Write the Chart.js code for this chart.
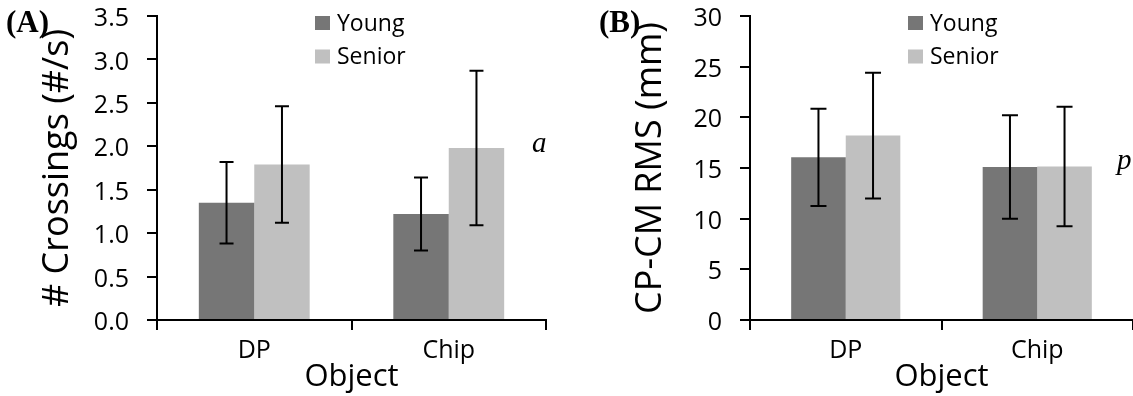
<!DOCTYPE html>
<html>
<head>
<meta charset="utf-8">
<script src="https://cdn.jsdelivr.net/npm/chart.js@4.4.0/dist/chart.umd.min.js"></script>
<style>
  html, body { margin: 0; padding: 0; background: #fff; }
  #wrap { position: relative; width: 1133px; height: 396px; }
  #chartA { position: absolute; left: 0; top: 0; }
  #chartB { position: absolute; left: 560px; top: 0; }
</style>
</head>
<body>
<div id="wrap">
  <canvas id="chartA" width="560" height="396"></canvas>
  <canvas id="chartB" width="573" height="396"></canvas>
</div>
<script>
// datos
const categories = ['DP', 'Chip'];
const groups = ['Young', 'Senior'];

// (A) # crossings por segundo
const crossYoung = [1.35, 1.22];
const crossSenior = [1.79, 1.98];
const crossYoungErr = [0.47, 0.42];
const crossSeniorErr = [0.67, 0.89];
const crossTicks = [0, 0.5, 1.0, 1.5, 2.0, 2.5, 3.0, 3.5];

// (B) CP-CM RMS en mm
const rmsYoung = [16.05, 15.1];
const rmsSenior = [18.2, 15.15];
const rmsYoungErr = [4.8, 5.1];
const rmsSeniorErr = [6.2, 5.9];
const rmsTicks = [0, 5, 10, 15, 20, 25, 30];

const darkGrey = '#767676';
const lightGrey = '#c0c0c0';
const sans = 'Open Sans';

// barras de error (media +/- error) usando la escala y del grafico
const errorBars = {
    id: 'errorBars',
    afterDatasetsDraw(chart, args, opts) {
        const ctx = chart.ctx;
        const yScale = chart.scales.y;
        ctx.save();
        ctx.strokeStyle = '#000';
        ctx.lineWidth = 2;
        chart.data.datasets.forEach((ds, i) => {
            const meta = chart.getDatasetMeta(i);
            meta.data.forEach((bar, j) => {
                const v = ds.data[j];
                const e = ds.errors[j];
                const top = yScale.getPixelForValue(v + e);
                const bot = yScale.getPixelForValue(v - e);
                const half = opts.cap / 2;
                ctx.beginPath();
                ctx.moveTo(bar.x, top); ctx.lineTo(bar.x, bot);
                ctx.moveTo(bar.x - half, top); ctx.lineTo(bar.x + half, top);
                ctx.moveTo(bar.x - half, bot); ctx.lineTo(bar.x + half, bot);
                ctx.stroke();
            });
        });
        ctx.restore();
    }
};

// leyenda dentro del area + letra del panel + nota en cursiva
const panelExtras = {
    id: 'panelExtras',
    afterDraw(chart, args, opts) {
        const ctx = chart.ctx;
        const area = chart.chartArea;
        ctx.save();
        ctx.textBaseline = 'middle';
        ctx.font = '23px "' + sans + '"';
        chart.data.datasets.forEach((ds, i) => {
            const x = area.left + opts.legendDx;
            const yc = opts.legendRows[i];
            ctx.fillStyle = ds.backgroundColor;
            ctx.fillRect(x, yc - 7, 15, 14);
            ctx.fillStyle = '#000';
            ctx.fillText(ds.label, x + 22, yc + 1);
        });
        ctx.textBaseline = 'alphabetic';
        ctx.fillStyle = '#000';
        ctx.font = 'bold 31px "Liberation Serif"';
        ctx.fillText(opts.panel, opts.panelX, 32);
        ctx.font = 'italic 29px "Liberation Serif"';
        ctx.fillText(opts.note, opts.noteX, opts.noteY);
        ctx.restore();
    }
};

function makeChart(id, young, senior, youngErr, seniorErr, ticks, digits, yTitle, cfg) {
    const ctx = document.getElementById(id).getContext('2d');
    return new Chart(ctx, {
        type: 'bar',
        data: {
            labels: categories,
            datasets: [
                { label: groups[0], data: young, errors: youngErr, backgroundColor: darkGrey, borderWidth: 0 },
                { label: groups[1], data: senior, errors: seniorErr, backgroundColor: lightGrey, borderWidth: 0 }
            ]
        },
        options: {
            responsive: false,
            devicePixelRatio: 1,
            animation: false,
            categoryPercentage: 0.57,
            barPercentage: 1.0,
            layout: { padding: { top: 16, right: cfg.padRight, left: 0, bottom: 0 } },
            scales: {
                x: {
                    offset: true,
                    grid: { display: true, drawOnChartArea: false, drawTicks: true, tickLength: 10, color: '#000', lineWidth: 2, offset: true },
                    border: { display: true, color: '#000', width: 2 },
                    ticks: { color: '#000', font: { family: sans, size: 25 }, padding: 6 },
                    title: { display: true, text: 'Object', color: '#000', font: { family: sans, size: 31 }, padding: { top: 0, bottom: 0 } },
                    afterFit: s => { s.height = 76; }
                },
                y: {
                    min: 0,
                    max: ticks[ticks.length - 1],
                    afterBuildTicks: s => { s.ticks = ticks.map(v => ({ value: v })); },
                    grid: { display: true, drawOnChartArea: false, drawTicks: true, tickLength: 10, color: '#000', lineWidth: 2 },
                    border: { display: true, color: '#000', width: 2 },
                    ticks: {
                        color: '#000',
                        font: { family: sans, size: 25 },
                        padding: 18,
                        labelOffset: 3,
                        callback: v => Number(v).toFixed(digits)
                    },
                    title: { display: true, text: yTitle, color: '#000', font: { family: sans, size: 36 }, padding: { top: cfg.titlePad, bottom: 0 } },
                    afterFit: s => {
                        s.width = cfg.yWidth;
                        // sin relleno extra arriba/abajo, el area empieza en top 16
                        s.paddingTop = 0;
                        s.paddingBottom = 0;
                    }
                }
            },
            plugins: {
                legend: { display: false },
                tooltip: { enabled: false },
                errorBars: { cap: cfg.cap },
                panelExtras: {
                    legendDx: 158,
                    legendRows: [23, 56.5],
                    panel: cfg.panel,
                    panelX: cfg.panelX,
                    note: cfg.note,
                    noteX: cfg.noteX,
                    noteY: cfg.noteY
                }
            }
        },
        plugins: [errorBars, panelExtras]
    });
}

makeChart('chartA', crossYoung, crossSenior, crossYoungErr, crossSeniorErr, crossTicks, 1, '# Crossings (#/s)',
    { padRight: 14, yWidth: 157, titlePad: 36, cap: 14, panel: '(A)', panelX: 6, note: 'a', noteX: 532, noteY: 152 });

makeChart('chartB', rmsYoung, rmsSenior, rmsYoungErr, rmsSeniorErr, rmsTicks, 0, 'CP-CM RMS (mm)',
    { padRight: 0, yWidth: 190, titlePad: 69, cap: 16, panel: '(B)', panelX: 39, note: 'p', noteX: 557, noteY: 169 });
</script>
</body>
</html>
